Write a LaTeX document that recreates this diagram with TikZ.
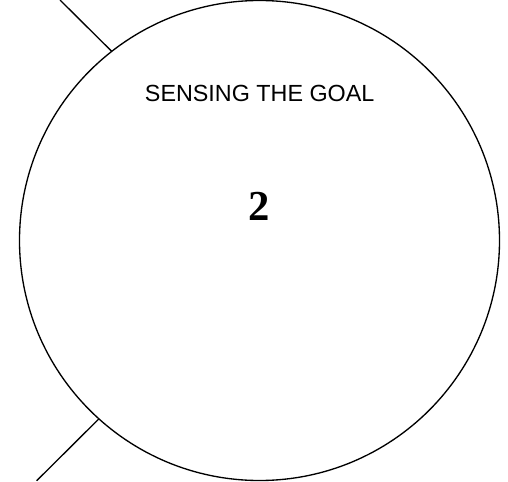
\documentclass[tikz,border=0pt]{standalone}
\usepackage{fontspec}
\setmainfont{Liberation Serif}
\setsansfont{Liberation Sans}
\usetikzlibrary{positioning}
\definecolor{inkblack}{HTML}{000000}
\tikzset{
  stage/.style={draw=inkblack, circle, minimum size=360pt, inner sep=0pt,
    outer sep=0pt, line width=1pt},
  link/.style={line width=1pt, color=inkblack},
  stagetitle/.style={font=\sffamily\fontsize{17.5}{20}\selectfont, text=inkblack, inner sep=0pt},
  stagenum/.style={font=\bfseries\fontsize{32}{36}\selectfont, text=inkblack, inner sep=0pt},
}

\begin{document}
\begin{tikzpicture}[x=0.75pt,y=-0.75pt]
  \useasboundingbox (0,0) rectangle (508,482);
  \node[stage] (goal) at (259.5,240.5) {};
  \node[stagetitle] (title) at (259.7,93.3) {SENSING THE GOAL};
  \node[stagenum] (num) at (259.3,206) {2};
  % links leaving the picture
  \coordinate (intop) at (60,0);
  \coordinate (outbot) at (36.7,480.7);
  \draw[link] (intop) -- (goal.128);
  \draw[link] (goal.228) -- (outbot);
\end{tikzpicture}
\end{document}
